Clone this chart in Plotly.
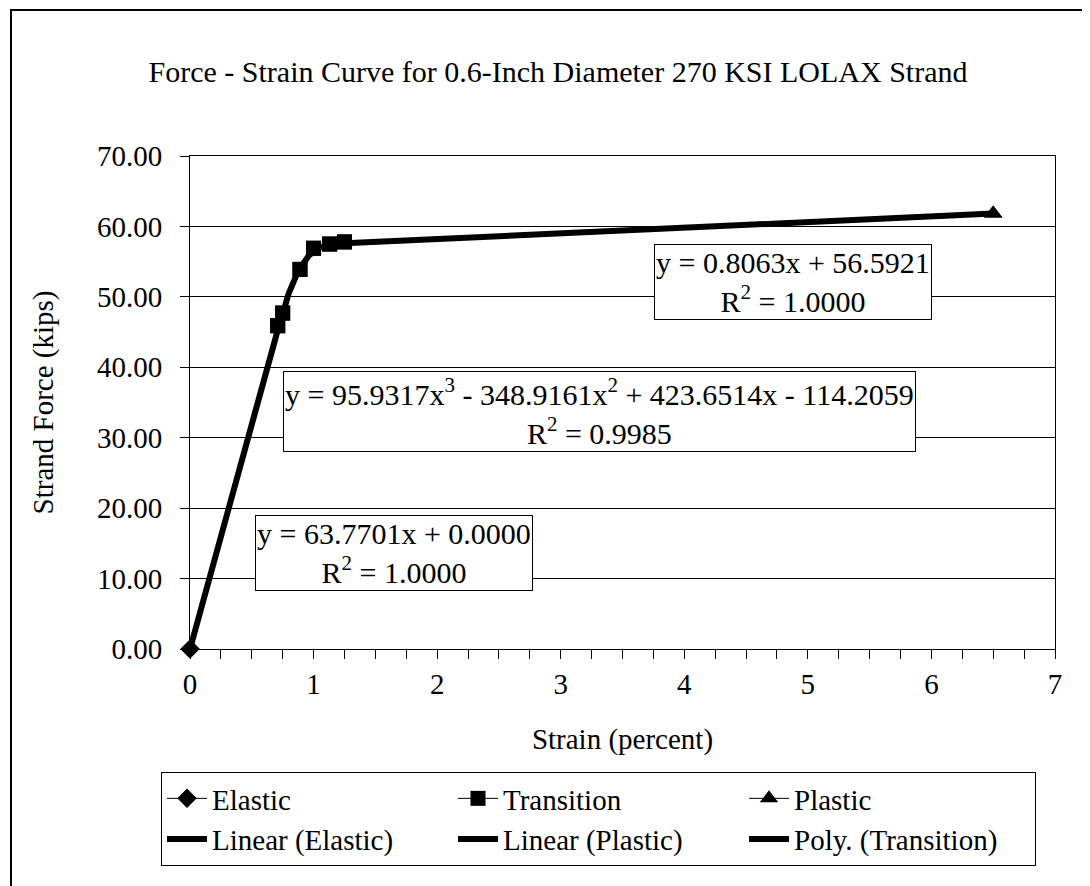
import numpy as np
import plotly.graph_objects as go

# ---- data ----
elastic_x = [0.0, 0.71]
elastic_y = [0.0, 45.28]

transition_x = [0.71, 0.75, 0.89, 1.00, 1.13, 1.25]
transition_y = [45.9, 47.7, 53.9, 56.9, 57.5, 57.8]

plastic_x = [1.25, 6.50]
plastic_y = [57.60, 61.83]

# trendline coefficients as printed on the chart (highest power first)
elastic_coef = [63.7701, 0.0000]
transition_coef = [95.9317, -348.9161, 423.6514, -114.2059]
plastic_coef = [0.8063, 56.5921]

x_ticks = [0, 1, 2, 3, 4, 5, 6, 7]
y_ticks = [0, 10, 20, 30, 40, 50, 60, 70]

FONT = "Times New Roman, Liberation Serif, serif"
BLACK = "#000000"
FS = 29

fig = go.Figure()

# data series (legend entries)
fig.add_trace(go.Scatter(x=elastic_x[:1], y=elastic_y[:1], name="Elastic", mode="lines+markers",
                         line=dict(color=BLACK, width=1),
                         marker=dict(symbol="diamond", size=15, color=BLACK)))
fig.add_trace(go.Scatter(x=transition_x, y=transition_y, name="Transition", mode="lines+markers",
                         line=dict(color=BLACK, width=1),
                         marker=dict(symbol="square", size=15, color=BLACK)))
fig.add_trace(go.Scatter(x=plastic_x[1:], y=plastic_y[1:], name="Plastic", mode="lines+markers",
                         line=dict(color=BLACK, width=1),
                         marker=dict(symbol="triangle-up", size=16, color=BLACK)))

# trendlines
xe = np.linspace(min(elastic_x), max(elastic_x), 20)
fig.add_trace(go.Scatter(x=xe, y=np.polyval(elastic_coef, xe), name="Linear (Elastic)", mode="lines",
                         line=dict(color=BLACK, width=6)))
xp = np.linspace(min(plastic_x), max(plastic_x), 20)
fig.add_trace(go.Scatter(x=xp, y=np.polyval(plastic_coef, xp), name="Linear (Plastic)", mode="lines",
                         line=dict(color=BLACK, width=6)))
xt = np.linspace(min(transition_x), max(transition_x), 60)
fig.add_trace(go.Scatter(x=xt, y=np.polyval(transition_coef, xt), name="Poly. (Transition)", mode="lines",
                         line=dict(color=BLACK, width=6)))

# markers drawn above the trendlines
fig.add_trace(go.Scatter(x=elastic_x[:1], y=elastic_y[:1], mode="markers", showlegend=False,
                         marker=dict(symbol="diamond", size=15, color=BLACK), hoverinfo="skip", cliponaxis=False))
fig.add_trace(go.Scatter(x=transition_x, y=transition_y, mode="markers", showlegend=False,
                         marker=dict(symbol="square", size=15, color=BLACK), hoverinfo="skip"))
fig.add_trace(go.Scatter(x=plastic_x[1:], y=plastic_y[1:], mode="markers", showlegend=False,
                         marker=dict(symbol="triangle-up", size=16, color=BLACK), hoverinfo="skip"))

ann_font = dict(family=FONT, size=30, color=BLACK)
annotations = [
    dict(x=4.88, y=52.1, text="y = 0.8063x + 56.5921<br>R<sup>2</sup> = 1.0000"),
    dict(x=3.31, y=33.7, text="y = 95.9317x<sup>3</sup> - 348.9161x<sup>2</sup> + 423.6514x - 114.2059<br>R<sup>2</sup> = 0.9985"),
    dict(x=1.65, y=13.7, text="y = 63.7701x + 0.0000<br>R<sup>2</sup> = 1.0000"),
]
for a in annotations:
    fig.add_annotation(xref="x", yref="y", showarrow=False, align="center",
                       font=ann_font, bgcolor="white", bordercolor=BLACK, borderwidth=1,
                       borderpad=1, **a)

L, R, T, B = 182, 1047, 148, 641
W, H = 1090, 886
pw, ph = R - L, B - T

fig.update_layout(
    width=W, height=H,
    margin=dict(l=L, r=W - R, t=T, b=H - B),
    paper_bgcolor="white", plot_bgcolor="white",
    font=dict(family=FONT, size=FS, color=BLACK),
    title=dict(text="Force - Strain Curve for 0.6-Inch Diameter 270 KSI LOLAX Strand",
               x=550 / W, xanchor="center", y=1 - 63 / H, yanchor="middle",
               font=dict(family=FONT, size=30, color=BLACK)),
    xaxis=dict(range=[0, 7], tickvals=x_ticks, ticks="outside", ticklen=9, tickwidth=1,
               tickcolor=BLACK, showline=True, linecolor=BLACK, linewidth=1, mirror=True,
               showgrid=False, zeroline=False,
               minor=dict(dtick=0.25, ticks="outside", ticklen=9, tickcolor=BLACK, showgrid=False),
               tickfont=dict(family=FONT, size=FS),
               title=dict(text="Strain (percent)", font=dict(family=FONT, size=FS), standoff=29)),
    yaxis=dict(range=[0, 70], tickvals=y_ticks, tickformat=".2f", ticks="outside", ticklen=9,
               tickcolor=BLACK, showline=True, linecolor=BLACK, linewidth=1, mirror=True,
               showgrid=True, gridcolor=BLACK, gridwidth=1, zeroline=False,
               ticklabelstandoff=12,
               tickfont=dict(family=FONT, size=FS),
               title=dict(text="Strand Force (kips)", font=dict(family=FONT, size=FS), standoff=34)),
    legend=dict(orientation="h", x=(153 - L) / pw, xanchor="left",
                y=(B - 764) / ph, yanchor="top",
                entrywidth=236, entrywidthmode="pixels",
                bordercolor=BLACK, borderwidth=1, bgcolor="white",
                font=dict(family=FONT, size=FS), tracegroupgap=0, itemwidth=40),
    showlegend=True,
)

# outer chart frame
fig.add_shape(type="rect", xref="paper", yref="paper",
              x0=(3 - L) / pw, x1=(1087 - L) / pw, y0=(B - 900) / ph, y1=(B - 2) / ph,
              line=dict(color=BLACK, width=2), fillcolor="rgba(0,0,0,0)", layer="above")

fig.write_html("out.html")
